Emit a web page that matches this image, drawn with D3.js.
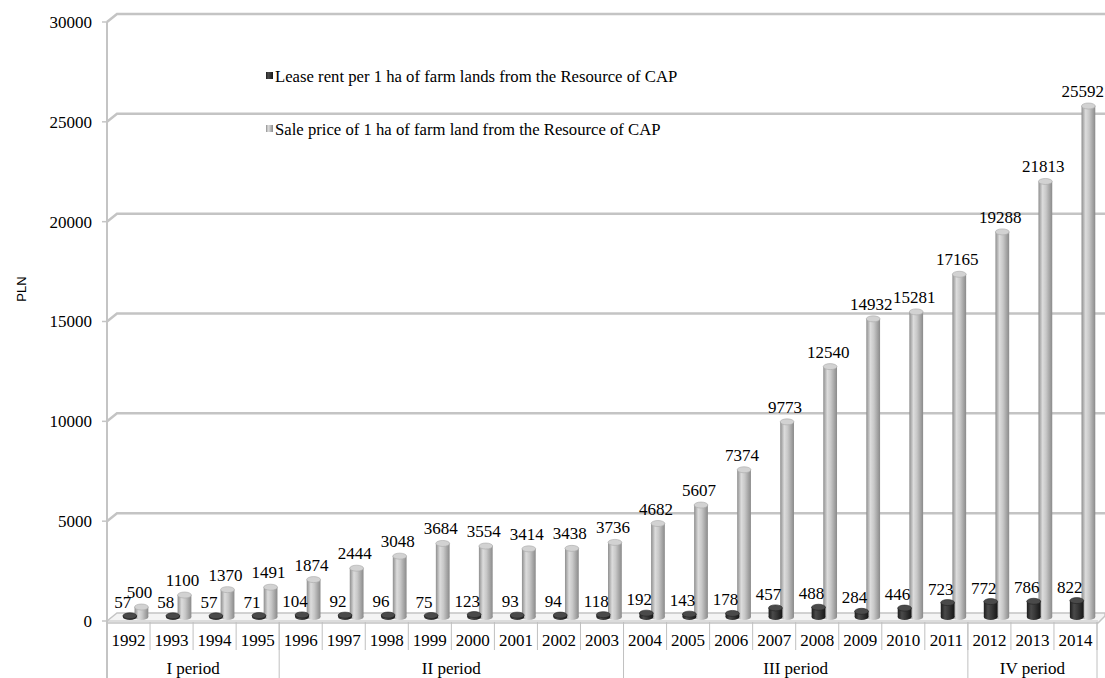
<!DOCTYPE html>
<html>
<head>
<meta charset="utf-8">
<script src="https://cdn.jsdelivr.net/npm/d3@7"></script>
<style>
  html, body { margin: 0; padding: 0; background: #fff; }
  svg { display: block; }
</style>
</head>
<body>
<svg id="chart" width="1105" height="678"></svg>
<script>
const years = ["1992","1993","1994","1995","1996","1997","1998","1999","2000","2001","2002","2003","2004","2005","2006","2007","2008","2009","2010","2011","2012","2013","2014"];
const leaseRent = [57,58,57,71,104,92,96,75,123,93,94,118,192,143,178,457,488,284,446,723,772,786,822];
const salePrice = [500,1100,1370,1491,1874,2444,3048,3684,3554,3414,3438,3736,4682,5607,7374,9773,12540,14932,15281,17165,19288,21813,25592];
const periodLabels = ["I period","II period","III period","IV period"];
const periodFirstYear = ["1992","1996","2004","2012"];
const periodLastYear = ["1995","2003","2011","2014"];
const yTicks = [0,5000,10000,15000,20000,25000,30000];
const seriesNames = ["Lease rent per 1 ha of farm lands from the Resource of CAP","Sale price of 1 ha of farm land from the Resource of CAP"];

const svg = d3.select("#chart");
const serif = "'Liberation Serif','Times New Roman',serif";
const sans = "'Liberation Sans',Arial,sans-serif";
const fs = 17;

const x = d3.scaleBand().domain(years).range([107, 1097]).padding(0);
const y = d3.scaleLinear().domain([0, 30000]).range([621, 22]);
const bw = x.bandwidth();
const backDx = 10, backDy = -8;
const midDy = -4;
const gridColor = "#c4c4c4";

const defs = svg.append("defs");
function hGrad(id, stops) {
  const g = defs.append("linearGradient").attr("id", id).attr("x1","0%").attr("x2","100%").attr("y1","0%").attr("y2","0%");
  stops.forEach(s => g.append("stop").attr("offset", s[0]).attr("stop-color", s[1]));
}
hGrad("gDark", [["0%","#1c1c1c"],["30%","#4a4a4a"],["55%","#3a3a3a"],["100%","#161616"]]);
hGrad("gLight", [["0%","#8e8e8e"],["30%","#dcdcdc"],["55%","#c8c8c8"],["100%","#8a8a8a"]]);

// floor
const x0 = x.range()[0], x1 = x.range()[1];
const y0 = y(0);
svg.append("path")
  .attr("d", `M${x0},${y0} L${x0+backDx},${y0+backDy} L${x1+backDx-2},${y0+backDy} L${x1+backDx-2},${y0+backDy+3} L${x1+1},${y0+2} L${x0},${y0+2} Z`)
  .attr("fill", "#f4f4f4").attr("stroke", gridColor).attr("stroke-width", 1.5);
svg.append("line").attr("x1", x0).attr("x2", x1+1).attr("y1", y0).attr("y2", y0)
  .attr("stroke", gridColor).attr("stroke-width", 1);

// gridlines (3D: tick, diagonal on side wall, horizontal on back wall)
yTicks.forEach(v => {
  const yy = y(v);
  svg.append("line").attr("x1", x0-5).attr("x2", x0).attr("y1", yy).attr("y2", yy)
    .attr("stroke", gridColor).attr("stroke-width", 1.5);
  if (v > 0) {
    svg.append("path")
      .attr("d", `M${x0},${yy} L${x0+backDx},${yy+backDy} L${x1+backDx-2},${yy+backDy}`)
      .attr("fill", "none").attr("stroke", gridColor).attr("stroke-width", 2.5);
  }
  svg.append("text").attr("x", 92).attr("y", yy).attr("dy", "0.35em")
    .attr("text-anchor", "end").attr("font-family", serif).attr("font-size", fs)
    .attr("fill", "#000").text(v);
});

// vertical axis line
svg.append("line").attr("x1", x0).attr("x2", x0).attr("y1", y(30000)).attr("y2", 678)
  .attr("stroke", gridColor).attr("stroke-width", 2);

// cylinders
const bwid = bw * 0.32;
const ry = 3;
function cylinder(cx, val, grad, capFill, capStroke) {
  const top = y(val) + midDy;
  const bot = y0 + midDy;
  const g = svg.append("g");
  g.append("ellipse").attr("cx", cx).attr("cy", bot).attr("rx", bwid/2).attr("ry", ry)
    .attr("fill", `url(#${grad})`);
  g.append("rect").attr("x", cx - bwid/2).attr("y", top).attr("width", bwid).attr("height", Math.max(0, bot - top))
    .attr("fill", `url(#${grad})`);
  g.append("ellipse").attr("cx", cx).attr("cy", top).attr("rx", bwid/2).attr("ry", ry)
    .attr("fill", capFill).attr("stroke", capStroke).attr("stroke-width", 0.6);
  return top;
}

years.forEach((yr, i) => {
  const cxL = x(yr) + bw * 0.8;
  const topL = cylinder(cxL, salePrice[i], "gLight", "#d2d2d2", "#a8a8a8");
  const t = svg.append("text").attr("x", cxL - 2).attr("y", topL - ry - 6)
    .attr("text-anchor", "middle").attr("font-family", serif).attr("font-size", fs)
    .attr("fill", "#000").text(salePrice[i]);
  const w = t.node().getComputedTextLength();
  if (cxL - 2 + w / 2 > 1104) t.attr("x", 1104 - w / 2);
});
years.forEach((yr, i) => {
  const cxD = x(yr) + bw * 0.53;
  const topD = cylinder(cxD, leaseRent[i], "gDark", "#4a4a4a", "#222");
  svg.append("text").attr("x", cxD - 7).attr("y", topD - ry - 5)
    .attr("text-anchor", "middle").attr("font-family", serif).attr("font-size", fs)
    .attr("fill", "#000").text(leaseRent[i]);
});

// category axis
const sepColor = "#c0c0c0";
years.forEach(yr => {
  svg.append("line").attr("x1", x(yr)+bw).attr("x2", x(yr)+bw).attr("y1", 622).attr("y2", 650)
    .attr("stroke", sepColor).attr("stroke-width", 1);
  svg.append("text").attr("x", x(yr) + bw/2).attr("y", 646)
    .attr("text-anchor", "middle").attr("font-family", serif).attr("font-size", fs)
    .attr("fill", "#000").text(yr);
});
periodLabels.forEach((p, i) => {
  const a = x(periodFirstYear[i]);
  const b = x(periodLastYear[i]) + bw;
  svg.append("line").attr("x1", b).attr("x2", b).attr("y1", 622).attr("y2", 678)
    .attr("stroke", sepColor).attr("stroke-width", 1);
  svg.append("text").attr("x", (a + b) / 2).attr("y", 674)
    .attr("text-anchor", "middle").attr("font-family", serif).attr("font-size", fs)
    .attr("fill", "#000").text(p);
});

// y-axis title
svg.append("text").attr("transform", "translate(26,289) rotate(-90)")
  .attr("text-anchor", "middle").attr("font-family", sans).attr("font-size", 13)
  .attr("fill", "#000").text("PLN");

// legend
const legend = [{name: seriesNames[0], grad: "gDark", y: 76}, {name: seriesNames[1], grad: "gLight", y: 129}];
legend.forEach(l => {
  svg.append("rect").attr("x", 266).attr("y", l.y - 4).attr("width", 7).attr("height", 7)
    .attr("fill", `url(#${l.grad})`);
  svg.append("text").attr("x", 275).attr("y", l.y).attr("dy", "0.33em")
    .attr("font-family", serif).attr("font-size", 16.7)
    .attr("fill", "#000").text(l.name);
});
</script>
</body>
</html>
